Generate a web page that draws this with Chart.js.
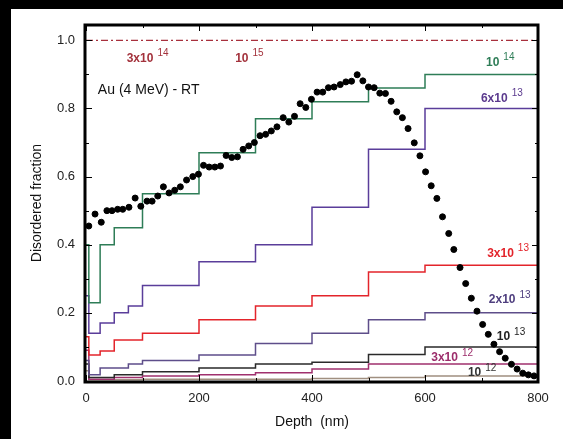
<!DOCTYPE html>
<html>
<head>
<meta charset="utf-8">
<script src="https://cdn.jsdelivr.net/npm/chart.js@4"></script>
<style>
  body { margin: 0; background: #fff; }
  #wrap { position: relative; width: 563px; height: 439px; }
  .band { position: absolute; background: #000; }
</style>
</head>
<body>
<div id="wrap">
  <canvas id="chart" width="563" height="439"></canvas>
  <div class="band" style="left:0;top:0;width:11px;height:439px"></div>
  <div class="band" style="left:0;top:0;width:563px;height:9px"></div>
</div>
<script>
// Step boundaries (nm) shared by all the computed profiles
const stepDepths = [0, 5, 25, 50, 75, 100, 200, 300, 400, 500, 600, 800];

// Disordered fraction per depth interval, one array per fluence
const dose1e14 = [0.40, 0.23, 0.40, 0.45, 0.45, 0.55, 0.67, 0.77, 0.82, 0.86, 0.90];
const dose6e13 = [0.25, 0.14, 0.17, 0.20, 0.22, 0.28, 0.35, 0.40, 0.51, 0.68, 0.80];
const dose3e13 = [0.13, 0.076, 0.088, 0.12, 0.12, 0.14, 0.18, 0.22, 0.25, 0.32, 0.34];
const dose2e13 = [0.06, 0.018, 0.038, 0.038, 0.05, 0.06, 0.076, 0.11, 0.14, 0.18, 0.20];
const dose1e13 = [0.05, 0.01, 0.01, 0.018, 0.018, 0.027, 0.038, 0.05, 0.055, 0.078, 0.10];
const dose3e12 = [0.09, 0.005, 0.005, 0.01, 0.01, 0.015, 0.018, 0.024, 0.035, 0.05, 0.05];
const dose1e12 = [0.03, 0.004, 0.004, 0.004, 0.004, 0.005, 0.005, 0.005, 0.007, 0.01, 0.015];

// Saturated level (3x10^14 and 10^15)
const saturationDepths = [0, 800];
const saturationValues = [1.0, 1.0];

// Measured points
const measDepths = [5, 16, 27, 37, 46, 56, 65, 76, 87, 97, 108, 117, 127, 137, 147, 157, 167, 178, 189, 199,
  208, 218, 228, 238, 248, 258, 268, 278, 288, 298, 308, 318, 328, 338, 349, 359, 369, 379, 389, 399,
  409, 419, 429, 439, 450, 460, 470, 480, 490, 500, 510, 520, 530, 540, 550, 560, 570, 581, 591, 601,
  611, 621, 631, 642, 651, 662, 672, 682, 692, 702, 712, 722, 732, 742, 753, 763, 773, 783, 793];
const measValues = [0.455, 0.49, 0.466, 0.50, 0.50, 0.504, 0.504, 0.51, 0.537, 0.513, 0.528, 0.528, 0.543, 0.57, 0.552, 0.56, 0.57, 0.59, 0.60, 0.607,
  0.633, 0.628, 0.628, 0.631, 0.662, 0.656, 0.658, 0.68, 0.69, 0.70, 0.72, 0.724, 0.734, 0.746, 0.773, 0.76, 0.777, 0.814, 0.803, 0.827,
  0.848, 0.848, 0.861, 0.863, 0.87, 0.878, 0.88, 0.899, 0.881, 0.863, 0.861, 0.845, 0.844, 0.821, 0.79, 0.773, 0.741, 0.699, 0.661, 0.614,
  0.573, 0.536, 0.482, 0.433, 0.386, 0.333, 0.286, 0.243, 0.205, 0.166, 0.137, 0.108, 0.086, 0.067, 0.049, 0.035, 0.023, 0.018, 0.015];

const xTickLabels = ['0', '200', '400', '600', '800'];
const yTickLabels = ['0.0', '0.2', '0.4', '0.6', '0.8', '1.0'];

// Text labels placed in data coordinates
const annotations = [
  { base: '3x10', exp: '14', x: 72, y: 0.947, color: '#a3323c' },
  { base: '10', exp: '15', x: 264, y: 0.947, color: '#a3323c' },
  { base: '10', exp: '14', x: 708, y: 0.935, color: '#2e7d57' },
  { base: '6x10', exp: '13', x: 699, y: 0.830, color: '#5b3a8e' },
  { base: '3x10', exp: '13', x: 710, y: 0.375, color: '#e3242b' },
  { base: '2x10', exp: '13', x: 713, y: 0.238, color: '#4e3e7e' },
  { base: '10', exp: '13', x: 727, y: 0.129, color: '#222222' },
  { base: '3x10', exp: '12', x: 611, y: 0.067, color: '#9c2d6b' },
  { base: '10', exp: '12', x: 676, y: 0.023, color: '#333333' }
];

function stepPoints(vals) {
  return stepDepths.map((d, i) => ({ x: d, y: vals[Math.min(i, vals.length - 1)] }));
}

function stepSet(label, vals, color) {
  return {
    label,
    data: stepPoints(vals),
    borderColor: color,
    borderWidth: 1.5,
    stepped: true,
    pointRadius: 0,
    fill: false
  };
}

// Frame, inner ticks and text labels
const decorPlugin = {
  id: 'decor',
  afterDraw(chart) {
    const { ctx, chartArea: a, scales: { x, y } } = chart;
    ctx.save();
    ctx.strokeStyle = '#000';
    ctx.lineWidth = 1;
    for (let v = 0; v <= 800; v += 100) {
      const px = Math.round(x.getPixelForValue(v)) + 0.5;
      const len = v % 200 === 0 ? 6 : 3;
      ctx.beginPath();
      ctx.moveTo(px, a.bottom); ctx.lineTo(px, a.bottom - len);
      ctx.moveTo(px, a.top); ctx.lineTo(px, a.top + len);
      ctx.stroke();
    }
    for (let i = 0; i <= 10; i++) {
      const py = Math.round(y.getPixelForValue(i / 10)) + 0.5;
      const len = i % 2 === 0 ? 6 : 3;
      ctx.beginPath();
      ctx.moveTo(a.left, py); ctx.lineTo(a.left + len, py);
      ctx.moveTo(a.right, py); ctx.lineTo(a.right - len, py);
      ctx.stroke();
    }
    ctx.lineWidth = 3;
    ctx.strokeRect(a.left - 1, a.top, a.right - a.left + 1, a.bottom - a.top + 1);

    ctx.textBaseline = 'middle';
    ctx.textAlign = 'left';
    annotations.forEach(l => {
      const px = x.getPixelForValue(l.x);
      const py = y.getPixelForValue(l.y);
      ctx.fillStyle = l.color;
      ctx.font = 'bold 12px "Liberation Sans", Arial, sans-serif';
      ctx.fillText(l.base, px, py);
      const w = ctx.measureText(l.base).width;
      ctx.font = '10px "Liberation Sans", Arial, sans-serif';
      ctx.fillText(l.exp, px + w + 4, py - 5);
    });
    ctx.fillStyle = '#111';
    ctx.font = '14px "Liberation Sans", Arial, sans-serif';
    ctx.fillText('Au (4 MeV) - RT', x.getPixelForValue(21), y.getPixelForValue(0.853));
    ctx.restore();
  }
};

new Chart(document.getElementById('chart'), {
  type: 'line',
  data: {
    datasets: [
      {
        label: 'Measured',
        type: 'scatter',
        data: measDepths.map((d, i) => ({ x: d, y: measValues[i] })),
        backgroundColor: '#000',
        borderColor: '#000',
        pointRadius: 3,
        showLine: false
      },
      {
        label: '3x10^14 / 10^15',
        data: saturationDepths.map((d, i) => ({ x: d, y: saturationValues[i] })),
        borderColor: '#a8303d',
        borderWidth: 1.2,
        borderDash: [7, 3, 2, 3],
        pointRadius: 0
      },
      stepSet('10^14', dose1e14, '#2e7d57'),
      stepSet('6x10^13', dose6e13, '#5a3d9a'),
      stepSet('3x10^13', dose3e13, '#e3242b'),
      stepSet('2x10^13', dose2e13, '#5e4e8a'),
      stepSet('10^13', dose1e13, '#2a2a2a'),
      stepSet('3x10^12', dose3e12, '#a0306e'),
      stepSet('10^12', dose1e12, '#a08f80')
    ]
  },
  options: {
    responsive: false,
    animation: false,
    devicePixelRatio: 1,
    layout: { padding: { left: 0, top: 25, right: 25, bottom: 0 } },
    plugins: { legend: { display: false }, tooltip: { enabled: false } },
    scales: {
      x: {
        type: 'linear',
        min: 0,
        max: 800,
        grid: { display: false, drawTicks: false },
        border: { display: false },
        afterFit: s => { s.height = 58; },
        afterBuildTicks: s => { s.ticks = xTickLabels.map(t => ({ value: Number(t) })); },
        ticks: {
          padding: 10,
          color: '#222',
          font: { family: '"Liberation Sans", Arial, sans-serif', size: 13 },
          callback: (v, i) => xTickLabels[i]
        },
        title: {
          display: true,
          text: 'Depth  (nm)',
          color: '#111',
          font: { family: '"Liberation Sans", Arial, sans-serif', size: 14 },
          padding: { top: 0, bottom: 8 }
        }
      },
      y: {
        type: 'linear',
        min: 0,
        max: 1.045,
        grid: { display: false, drawTicks: false },
        border: { display: false },
        afterFit: s => { s.width = 86; },
        afterBuildTicks: s => { s.ticks = yTickLabels.map(t => ({ value: Number(t) })); },
        ticks: {
          padding: 11,
          color: '#222',
          font: { family: '"Liberation Sans", Arial, sans-serif', size: 13 },
          callback: (v, i) => yTickLabels[i]
        },
        title: {
          display: true,
          text: 'Disordered fraction',
          color: '#111',
          font: { family: '"Liberation Sans", Arial, sans-serif', size: 14 },
          padding: { top: 29, bottom: 0 }
        }
      }
    }
  },
  plugins: [decorPlugin]
});
</script>
</body>
</html>
